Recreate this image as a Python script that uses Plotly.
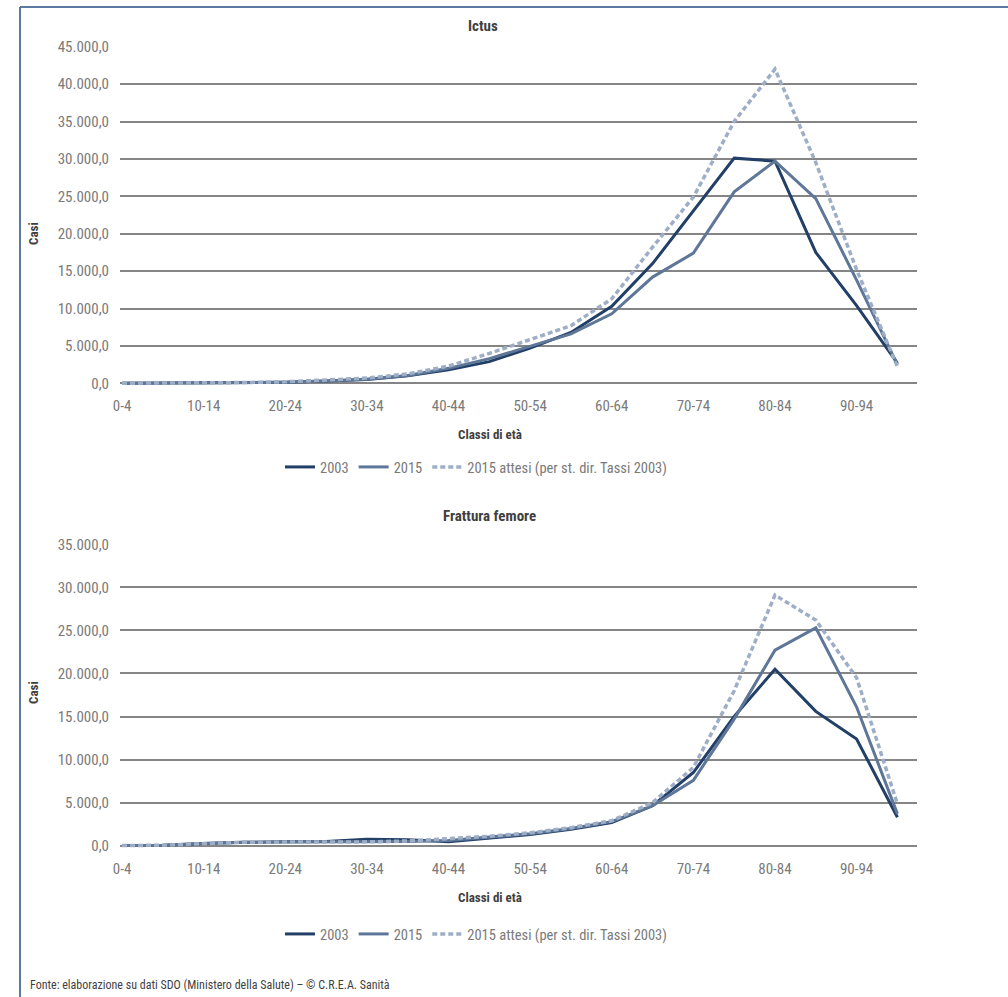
import plotly.graph_objects as go

# ---------------- data ----------------
AGE_CLASSES = ["0-4", "5-9", "10-14", "15-19", "20-24", "25-29", "30-34", "35-39",
               "40-44", "45-49", "50-54", "55-59", "60-64", "65-69", "70-74", "75-79",
               "80-84", "85-89", "90-94", "95+"]
TICK_LABELS = AGE_CLASSES[::2]

SERIES_NAMES = ["2003", "2015", "2015 attesi (per st. dir. Tassi 2003)"]

ICTUS_2003 = [10, 20, 40, 80, 150, 300, 500, 1000, 1800, 2900, 4700, 6800,
              10300, 16000, 23000, 30100, 29700, 17500, 10400, 2700]
ICTUS_2015 = [10, 20, 40, 80, 150, 300, 550, 1050, 2000, 3300, 5000, 6600,
              9300, 14200, 17400, 25600, 29700, 24700, 13800, 2500]
ICTUS_ATTESI = [10, 20, 50, 100, 200, 400, 700, 1250, 2300, 4000, 5800, 7700,
                11300, 18200, 24900, 35000, 42000, 29500, 15200, 2200]

FEMORE_2003 = [30, 50, 250, 400, 450, 500, 750, 700, 450, 900, 1300, 1900,
               2700, 4650, 8500, 15000, 20500, 15600, 12400, 3300]
FEMORE_2015 = [30, 50, 250, 400, 420, 420, 450, 500, 600, 1000, 1400, 2000,
               2800, 4650, 7600, 14700, 22700, 25300, 16100, 3700]
FEMORE_ATTESI = [30, 50, 250, 400, 420, 420, 450, 550, 800, 1100, 1500, 2100,
                 2900, 5000, 9100, 18000, 29100, 26200, 19500, 4850]

Y1_TICKS = [0, 5000, 10000, 15000, 20000, 25000, 30000, 35000, 40000, 45000]
Y2_TICKS = [0, 5000, 10000, 15000, 20000, 25000, 30000, 35000]

# ---------------- layout helpers ----------------
W, H = 1008, 997


def px_x(x):
    return x / W


def px_y(y):
    return (H - y) / H


FONT = "Liberation Sans Narrow, Arial Narrow, Roboto Condensed, DejaVu Sans Condensed, sans-serif"
COL_2003 = "#213f67"
COL_2015 = "#5e7698"
COL_ATT = "#9eaec6"
GRID = "#858585"
TICKCOL = "#7a7a7a"
TEXTCOL = "#3f3f3f"

styles = [
    dict(color=COL_2003, width=3, dash="solid"),
    dict(color=COL_2015, width=3, dash="solid"),
    dict(color=COL_ATT, width=3.5, dash="5px,3px"),
]

fig = go.Figure()

for i, (name, vals) in enumerate(zip(SERIES_NAMES, [ICTUS_2003, ICTUS_2015, ICTUS_ATTESI])):
    fig.add_trace(go.Scatter(x=AGE_CLASSES, y=vals, name=name, mode="lines",
                             line=styles[i], xaxis="x", yaxis="y", legend="legend"))
for i, (name, vals) in enumerate(zip(SERIES_NAMES, [FEMORE_2003, FEMORE_2015, FEMORE_ATTESI])):
    fig.add_trace(go.Scatter(x=AGE_CLASSES, y=vals, name=name, mode="lines",
                             line=styles[i], xaxis="x2", yaxis="y2", legend="legend2"))

xaxis_common = dict(type="category", categoryorder="array", categoryarray=AGE_CLASSES,
                    range=[-0.05, 19.48], tickvals=TICK_LABELS, showgrid=False,
                    zeroline=False, showline=False, ticks="", automargin=False,
                    tickfont=dict(family=FONT, size=15, color=TICKCOL),
                    ticklabelstandoff=7, fixedrange=True,
                    domain=[px_x(120), px_x(917)])
yaxis_common = dict(tickformat=",.1f", showgrid=True, gridcolor=GRID, gridwidth=1.6,
                    zeroline=False, showline=False, ticks="", automargin=False,
                    tickfont=dict(family=FONT, size=15, color=TICKCOL),
                    ticklabelstandoff=10, fixedrange=True)

fig.update_layout(
    width=W, height=H, autosize=False,
    margin=dict(l=0, r=0, t=0, b=0, pad=0, autoexpand=False),
    paper_bgcolor="white", plot_bgcolor="white",
    separators=",.",
    font=dict(family=FONT, color=TEXTCOL),
    xaxis=dict(xaxis_common, anchor="y"),
    yaxis=dict(yaxis_common, anchor="x", range=[-600, 45000], tickvals=Y1_TICKS,
               domain=[px_y(387.8), px_y(46.7)]),
    xaxis2=dict(xaxis_common, anchor="y2"),
    yaxis2=dict(yaxis_common, anchor="x2", range=[-600, 35000], tickvals=Y2_TICKS,
                domain=[px_y(850.9), px_y(544.3)]),
    legend=dict(orientation="h", x=px_x(476), xanchor="center", y=px_y(467), yanchor="middle",
                font=dict(family=FONT, size=14.5, color=TICKCOL), itemwidth=30,
                bgcolor="rgba(0,0,0,0)"),
    legend2=dict(orientation="h", x=px_x(476), xanchor="center", y=px_y(934), yanchor="middle",
                 font=dict(family=FONT, size=14.5, color=TICKCOL), itemwidth=30,
                 bgcolor="rgba(0,0,0,0)"),
    showlegend=True,
)

ann = []


def add_text(text, x, y, size, bold=False, angle=0, xanchor="center", color=TEXTCOL):
    ann.append(dict(text=("<b>%s</b>" % text) if bold else text, x=px_x(x), y=px_y(y),
                    xref="paper", yref="paper", showarrow=False, textangle=angle,
                    xanchor=xanchor, yanchor="middle",
                    font=dict(family=FONT, size=size, color=color)))


add_text("Ictus", 483, 26, 15, bold=True)
add_text("Frattura femore", 489, 516, 15, bold=True)
add_text("Casi", 33, 234, 13, bold=True, angle=-90)
add_text("Casi", 33, 693, 13, bold=True, angle=-90)
add_text("Classi di età", 490, 434, 13, bold=True)
add_text("Classi di età", 490, 897, 13, bold=True)
add_text("Fonte: elaborazione su dati SDO (Ministero della Salute) – © C.R.E.A. Sanità",
         28, 985, 12, xanchor="left")
fig.update_layout(annotations=ann)

FRAME = "#5b79a3"
fig.update_layout(shapes=[
    dict(type="line", xref="paper", yref="paper", x0=px_x(20), x1=px_x(20),
         y0=0, y1=px_y(7), line=dict(color=FRAME, width=2)),
    dict(type="line", xref="paper", yref="paper", x0=px_x(20), x1=1,
         y0=px_y(7), y1=px_y(7), line=dict(color=FRAME, width=2)),
])

fig.write_html("out.html", config={"displayModeBar": False},
               post_script="document.body.style.margin='0';document.body.style.overflow='hidden';")
